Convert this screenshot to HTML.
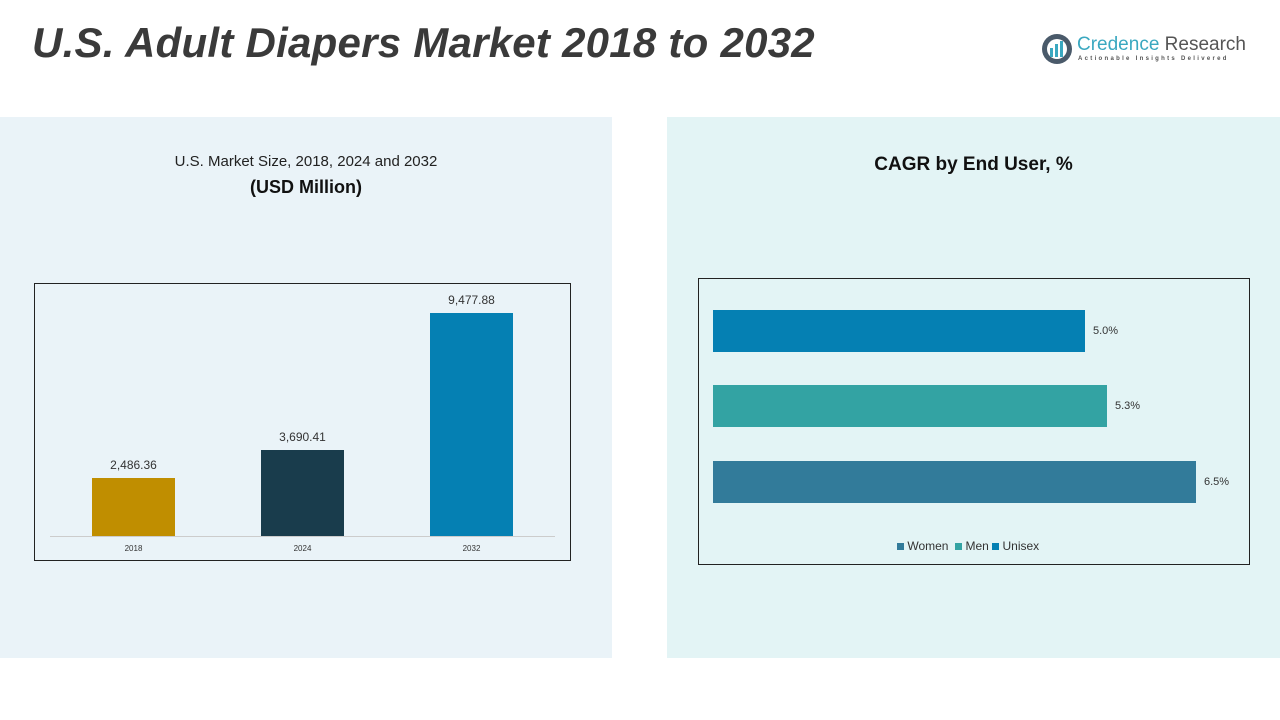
<!DOCTYPE html>
<html><head><meta charset="utf-8"><style>
body{margin:0;width:1280px;height:720px;background:#fff;position:relative;overflow:hidden;font-family:"Liberation Sans",sans-serif}
.a{position:absolute}
</style></head><body>
<div class="a" style="left:0;top:117px;width:612px;height:541px;background:#eaf3f8"></div>
<div class="a" style="left:667px;top:117px;width:613px;height:541px;background:#e3f4f5"></div>
<div class="a" style="left:32px;top:19px;font-size:42px;font-weight:bold;font-style:italic;color:#3a3a3a;letter-spacing:0.25px">U.S. Adult Diapers Market 2018 to 2032</div>
<svg class="a" style="left:1040px;top:32px" width="34" height="34"><circle cx="17" cy="17" r="15" fill="#4a5a6a"/><circle cx="17" cy="17" r="10" fill="#fff"/><rect x="10" y="16" width="3" height="9" fill="#3aa8c0"/><rect x="15" y="12" width="3" height="13" fill="#3aa8c0"/><rect x="20" y="9" width="3" height="16" fill="#3aa8c0"/></svg>
<div class="a" style="left:1077px;top:34px;font-size:19px;color:#3aa8c0">Credence <span style="color:#555">Research</span></div>
<div class="a" style="left:1078px;top:56px;font-size:6px;letter-spacing:2.3px;color:#555;font-weight:bold">Actionable Insights Delivered</div>
<div class="a" style="left:0;width:612px;top:153px;text-align:center;font-size:15px;color:#222">U.S. Market Size, 2018, 2024 and 2032</div>
<div class="a" style="left:0;width:612px;top:177px;text-align:center;font-size:18px;font-weight:bold;color:#111">(USD Million)</div>
<div class="a" style="left:667px;width:613px;top:154px;text-align:center;font-size:19px;font-weight:bold;color:#111">CAGR by End User, %</div>
<div class="a" style="left:34px;top:283px;width:535px;height:276px;border:1px solid #222"></div>
<div class="a" style="left:50px;top:536px;width:505px;height:1px;background:#ccc"></div>
<div class="a" style="left:92px;top:478px;width:83px;height:58px;background:#c08e00"></div>
<div class="a" style="left:261px;top:450px;width:83px;height:86px;background:#193c4c"></div>
<div class="a" style="left:430px;top:313px;width:83px;height:223px;background:#0580b3"></div>
<div class="a" style="left:92px;width:83px;top:458px;text-align:center;font-size:12px;color:#333">2,486.36</div>
<div class="a" style="left:261px;width:83px;top:430px;text-align:center;font-size:12px;color:#333">3,690.41</div>
<div class="a" style="left:430px;width:83px;top:293px;text-align:center;font-size:12px;color:#333">9,477.88</div>
<div class="a" style="left:92px;width:83px;top:544px;text-align:center;font-size:8px;color:#333">2018</div>
<div class="a" style="left:261px;width:83px;top:544px;text-align:center;font-size:8px;color:#333">2024</div>
<div class="a" style="left:430px;width:83px;top:544px;text-align:center;font-size:8px;color:#333">2032</div>
<div class="a" style="left:698px;top:278px;width:550px;height:285px;border:1px solid #222"></div>
<div class="a" style="left:713px;top:310px;width:372px;height:42px;background:#0580b3"></div>
<div class="a" style="left:713px;top:385px;width:394px;height:42px;background:#33a3a3"></div>
<div class="a" style="left:713px;top:461px;width:483px;height:42px;background:#327b9a"></div>
<div class="a" style="left:1093px;top:325px;font-size:11px;color:#333">5.0%</div>
<div class="a" style="left:1115px;top:400px;font-size:11px;color:#333">5.3%</div>
<div class="a" style="left:1204px;top:476px;font-size:11px;color:#333">6.5%</div>
<div class="a" style="left:897px;top:539px;font-size:12px;color:#333;white-space:nowrap"><span style="display:inline-block;width:7px;height:7px;background:#327b9a"></span> Women &nbsp;<span style="display:inline-block;width:7px;height:7px;background:#33a3a3"></span> Men <span style="display:inline-block;width:7px;height:7px;background:#0580b3"></span> Unisex</div>
</body></html>
